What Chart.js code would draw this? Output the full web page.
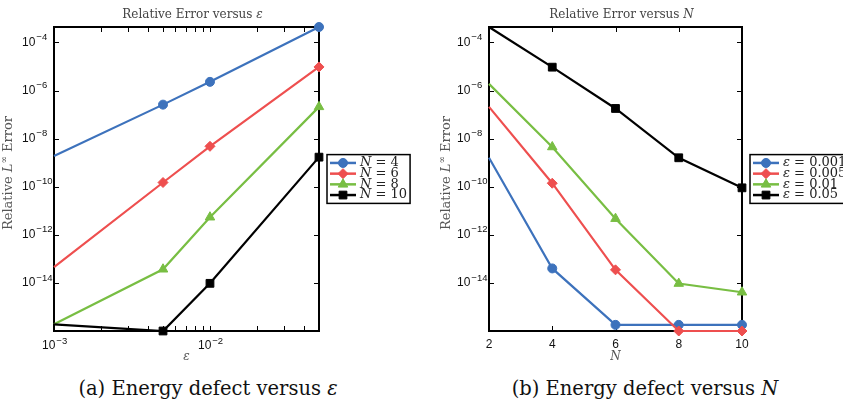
<!DOCTYPE html>
<html>
<head>
<meta charset="utf-8">
<script src="https://cdn.jsdelivr.net/npm/chart.js@4.4.1/dist/chart.umd.min.js"></script>
<style>
  html, body { margin: 0; padding: 0; background: #fff; }
  #page { position: relative; width: 843px; height: 408px; overflow: hidden; }
  canvas { position: absolute; top: 0; }
  #chartA { left: 0; }
  #chartB { left: 421px; }
  .caption {
    position: absolute; top: 378px;
    font-family: "DejaVu Serif", serif; font-size: 19.5px; line-height: 22px;
    color: #111; white-space: nowrap; transform: translateX(-50%);
  }
</style>
</head>
<body>
<div id="page">
  <canvas id="chartA" width="421" height="372"></canvas>
  <canvas id="chartB" width="422" height="372"></canvas>
  <div class="caption" style="left:208px">(a) Energy defect versus <i>ε</i></div>
  <div class="caption" style="left:645px">(b) Energy defect versus <i>N</i></div>
</div>
<script>
// values

// (a) relative error versus epsilon, one series per N
const epsValues = [0.001, 0.005, 0.01, 0.05];
const errN4  = [1.9e-9, 2.6e-7, 2.3e-6, 4.4e-4];
const errN6  = [4.5e-14, 1.5e-10, 4.8e-9, 9.6e-6];
const errN8  = [1.9e-16, 3.7e-14, 5.4e-12, 2.1e-7];
const errN10 = [1.9e-16, 1.0e-16, 9.6e-15, 1.7e-9];
const labelsA = ['N = 4', 'N = 6', 'N = 8', 'N = 10'];

// (b) relative error versus N, one series per epsilon
const nValues = [2, 4, 6, 8, 10];
const errEps001 = [1.6e-9, 4.0e-14, 1.8e-16, 1.8e-16, 1.8e-16];
const errEps005 = [2.1e-7, 1.4e-10, 3.5e-14, 1.0e-16, 1.0e-16];
const errEps01  = [1.9e-6, 4.5e-9, 4.7e-12, 9.4e-15, 4.1e-15];
const errEps05  = [4.4e-4, 9.4e-6, 1.8e-7, 1.6e-9, 9.0e-11];
const labelsB = ['ε = 0.001', 'ε = 0.005', 'ε = 0.01', 'ε = 0.05'];

// axes
const yMin = 1e-16, yMax = 4.4e-4;
const yTickValues = [1e-4, 1e-6, 1e-8, 1e-10, 1e-12, 1e-14];
const epsTickValues = [0.001, 0.01];
const epsMinorTicks = [0.002, 0.003, 0.004, 0.005, 0.006, 0.007, 0.008, 0.009, 0.02, 0.03, 0.04];
const nTickValues = [2, 4, 6, 8, 10];

const colors = ['#3d72bc', '#ee4f4f', '#78be43', '#000000'];
const markers = [
  { style: 'circle', r: 4.5 },
  { style: 'rectRot', r: 5 },
  { style: 'triangle', r: 5.5 },
  { style: 'rect', r: 5.5 }
];

function makeDatasets(xs, series, labels) {
  return series.map((ys, i) => ({
    label: labels[i],
    data: xs.map((x, j) => ({ x: x, y: ys[j] })),
    borderColor: colors[i],
    backgroundColor: colors[i],
    borderWidth: 2.2,
    pointStyle: markers[i].style,
    // the first marker sits on the left frame and is hidden in the original
    pointRadius: ctx => ctx.dataIndex === 0 ? 0 : markers[i].r,
    pointHoverRadius: 0,
    pointBorderWidth: 1,
    legendRadius: markers[i].r,
    tension: 0,
    clip: false,
    order: series.length - i
  }));
}

// "10" with a raised exponent; x0 is the left edge of the "10"
function drawPower(ctx, v, x0, y) {
  const exp = '−' + String(-Math.round(Math.log10(v)));
  ctx.textAlign = 'left';
  ctx.textBaseline = 'middle';
  ctx.fillStyle = '#111';
  ctx.font = '12px "Liberation Sans"';
  const w1 = ctx.measureText('10').width;
  ctx.fillText('10', x0, y);
  ctx.font = '9.5px "Liberation Sans"';
  ctx.fillText(exp, x0 + w1 + 1, y - 5);
  return w1;
}

// draws a row of text pieces [text, font, dy] starting at x
function drawPieces(ctx, pieces, x, y) {
  pieces.forEach(p => {
    ctx.font = p[1];
    ctx.fillText(p[0], x, y + (p[2] || 0));
    x += ctx.measureText(p[0]).width;
  });
}
function piecesWidth(ctx, pieces) {
  return pieces.reduce((w, p) => { ctx.font = p[1]; return w + ctx.measureText(p[0]).width; }, 0);
}

// box frame, inward ticks, titles, power-of-ten labels and a boxed legend
const frameLegend = {
  id: 'frameLegend',
  beforeDatasetsDraw(chart, args, opts) {
    const { ctx, chartArea: a, scales } = chart;
    ctx.save();
    ctx.strokeStyle = '#000';
    ctx.lineWidth = 1;
    ctx.beginPath();
    const xs = scales.x.ticks.map(t => t.value).concat(opts.xMinor || []);
    xs.forEach(v => {
      const px = Math.round(scales.x.getPixelForValue(v)) + 0.5;
      ctx.moveTo(px, a.bottom); ctx.lineTo(px, a.bottom - 5);
      ctx.moveTo(px, a.top); ctx.lineTo(px, a.top + 5);
    });
    scales.y.ticks.forEach(t => {
      const py = Math.round(scales.y.getPixelForValue(t.value)) + 0.5;
      ctx.moveTo(a.left, py); ctx.lineTo(a.left + 5, py);
      ctx.moveTo(a.right, py); ctx.lineTo(a.right - 5, py);
    });
    ctx.stroke();
    ctx.lineWidth = 2;
    ctx.strokeRect(a.left, a.top, a.right - a.left, a.bottom - a.top);

    // tick labels
    scales.y.ticks.forEach(t => {
      drawPower(ctx, t.value, a.left - 32, scales.y.getPixelForValue(t.value));
    });
    if (opts.xPower) {
      scales.x.ticks.forEach(t => {
        drawPower(ctx, t.value, scales.x.getPixelForValue(t.value) - 12, a.bottom + 15);
      });
    }

    // plot title
    const serif = '12px "DejaVu Serif"', serifI = 'italic 12px "DejaVu Serif"';
    const title = [[opts.title[0], serif], [opts.title[1], serifI]];
    ctx.fillStyle = '#444';
    ctx.textBaseline = 'middle';
    const tw = piecesWidth(ctx, title);
    drawPieces(ctx, title, (a.left + a.right) / 2 + 6 - tw / 2, 15);

    // y axis title, rotated
    const yt = [
      ['Relative ', '13px "DejaVu Serif"'],
      ['L', 'italic 13px "DejaVu Serif"'],
      ['∞', '9px "DejaVu Serif"', -4],
      [' Error', '13px "DejaVu Serif"']
    ];
    const yw = piecesWidth(ctx, yt);
    ctx.fillStyle = '#555';
    ctx.translate(opts.yTitleX, (a.top + a.bottom) / 2 - 6);
    ctx.rotate(-Math.PI / 2);
    drawPieces(ctx, yt, -yw / 2, 0);
    ctx.restore();
  },
  afterDraw(chart, args, opts) {
    const { ctx, chartArea: a } = chart;
    const sets = chart.data.datasets;
    const rowH = 10.7, pad = 3;
    const boxH = sets.length * rowH + 2 * pad;
    const left = a.right + opts.gap;
    const top = (a.top + a.bottom) / 2 - boxH / 2;
    const fontN = '13px "DejaVu Serif"';
    const fontI = 'italic 13px "DejaVu Serif"';
    ctx.save();
    let maxW = 0;
    const parts = sets.map(ds => {
      const [sym, val] = ds.label.split(' = ');
      ctx.font = fontI;
      const w1 = ctx.measureText(sym).width;
      ctx.font = fontN;
      const w2 = ctx.measureText(' = ' + val).width;
      maxW = Math.max(maxW, w1 + w2);
      return { sym, val, w1 };
    });
    const boxW = 33 + maxW + 3;
    ctx.fillStyle = '#fff';
    ctx.fillRect(left, top, boxW, boxH);
    ctx.lineWidth = 1.5;
    ctx.strokeStyle = '#000';
    ctx.strokeRect(left, top, boxW, boxH);
    sets.forEach((ds, i) => {
      const cy = top + pad + rowH * (i + 0.5);
      ctx.strokeStyle = ds.borderColor;
      ctx.lineWidth = 2.5;
      ctx.beginPath();
      ctx.moveTo(left + 3, cy);
      ctx.lineTo(left + 29, cy);
      ctx.stroke();
      ctx.fillStyle = ds.backgroundColor;
      ctx.lineWidth = 1;
      Chart.helpers.drawPoint(ctx, { pointStyle: ds.pointStyle, radius: ds.legendRadius, rotation: 0, borderWidth: 1 }, left + 16, cy);
      ctx.fillStyle = '#222';
      ctx.textBaseline = 'middle';
      ctx.textAlign = 'left';
      ctx.font = fontI;
      ctx.fillText(parts[i].sym, left + 33, cy);
      ctx.font = fontN;
      ctx.fillText(' = ' + parts[i].val, left + 33 + parts[i].w1, cy);
    });
    ctx.restore();
  }
};

function makeOptions(cfg) {
  return {
    responsive: false,
    animation: false,
    events: [],
    layout: { padding: { left: 0, top: 27, right: cfg.padRight, bottom: 0 } },
    plugins: {
      legend: { display: false },
      tooltip: { enabled: false },
      title: { display: false },
      frameLegend: { xMinor: cfg.xMinor, gap: 8, xPower: cfg.xPower, title: cfg.title, yTitleX: cfg.yTitleX }
    },
    scales: {
      x: {
        type: cfg.xType, min: cfg.xMin, max: cfg.xMax,
        grid: { display: false, drawTicks: false },
        border: { display: false },
        afterBuildTicks: s => { s.ticks = cfg.xTicks.map(v => ({ value: v })); },
        afterFit: s => { s.height = 41; },
        ticks: {
          display: !cfg.xPower,
          padding: 6, color: '#111', maxRotation: 0, autoSkip: false,
          font: { family: 'Liberation Sans', size: 12 }
        },
        title: {
          display: true, text: cfg.xTitle, color: '#555',
          font: { family: 'DejaVu Serif', size: 12, style: 'italic' },
          padding: { top: 0, bottom: 8 }
        }
      },
      y: {
        type: 'logarithmic', min: yMin, max: yMax,
        grid: { display: false, drawTicks: false },
        border: { display: false },
        afterBuildTicks: s => { s.ticks = yTickValues.map(v => ({ value: v })); },
        afterFit: s => { s.width = cfg.yWidth; },
        ticks: { display: false },
        title: { display: false }
      }
    }
  };
}

new Chart(document.getElementById('chartA'), {
  type: 'line',
  data: { datasets: makeDatasets(epsValues, [errN4, errN6, errN8, errN10], labelsA) },
  options: makeOptions({
    title: ['Relative Error versus ', 'ε'],
    padRight: 102, yWidth: 54, yTitleX: 9,
    xType: 'logarithmic', xMin: 0.001, xMax: 0.05,
    xTicks: epsTickValues, xMinor: epsMinorTicks, xPower: true,
    xTitle: 'ε'
  }),
  plugins: [frameLegend]
});

new Chart(document.getElementById('chartB'), {
  type: 'line',
  data: { datasets: makeDatasets(nValues, [errEps001, errEps005, errEps01, errEps05], labelsB) },
  options: makeOptions({
    title: ['Relative Error versus ', 'N'],
    padRight: 101, yWidth: 68, yTitleX: 26,
    xType: 'linear', xMin: 2, xMax: 10,
    xTicks: nTickValues, xMinor: [], xPower: false,
    xTitle: 'N'
  }),
  plugins: [frameLegend]
});
</script>
</body>
</html>
